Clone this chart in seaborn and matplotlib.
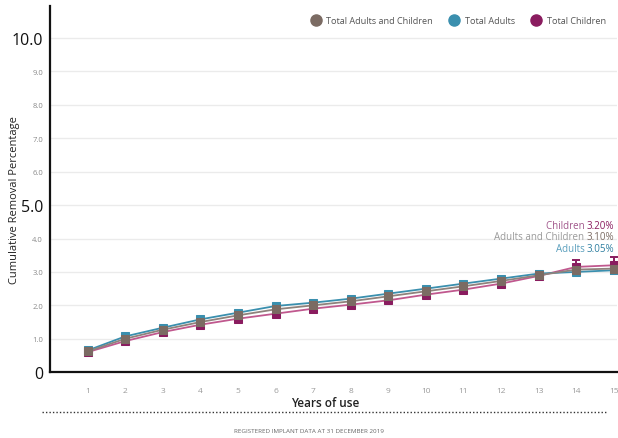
import matplotlib
matplotlib.use("Agg")
import matplotlib.pyplot as plt
import seaborn as sns
import numpy as np
import pandas as pd

years = list(range(1, 16))
adults = [0.65, 1.07, 1.33, 1.58, 1.78, 1.98, 2.08, 2.20, 2.35, 2.50, 2.65, 2.80, 2.95, 3.00, 3.05]
adults_lo = [0.60, 1.02, 1.28, 1.53, 1.73, 1.93, 2.03, 2.15, 2.29, 2.44, 2.58, 2.73, 2.86, 2.92, 2.95]
adults_hi = [0.70, 1.12, 1.38, 1.63, 1.83, 2.03, 2.13, 2.25, 2.41, 2.56, 2.72, 2.87, 3.04, 3.08, 3.15]
total = [0.62, 1.00, 1.27, 1.50, 1.70, 1.88, 2.00, 2.12, 2.27, 2.42, 2.57, 2.73, 2.90, 3.07, 3.10]
total_lo = [0.58, 0.96, 1.23, 1.46, 1.66, 1.84, 1.95, 2.07, 2.22, 2.37, 2.51, 2.67, 2.83, 2.98, 3.00]
total_hi = [0.66, 1.04, 1.31, 1.54, 1.74, 1.92, 2.05, 2.17, 2.32, 2.47, 2.63, 2.79, 2.97, 3.16, 3.22]
children = [0.60, 0.93, 1.20, 1.42, 1.60, 1.75, 1.90, 2.02, 2.15, 2.32, 2.47, 2.65, 2.88, 3.15, 3.20]
children_lo = [0.56, 0.88, 1.15, 1.37, 1.55, 1.70, 1.84, 1.96, 2.09, 2.25, 2.39, 2.56, 2.75, 2.97, 3.00]
children_hi = [0.64, 0.98, 1.25, 1.47, 1.65, 1.80, 1.96, 2.08, 2.21, 2.39, 2.55, 2.74, 3.01, 3.35, 3.45]

series_names = ["Total Adults and Children", "Total Adults", "Total Children"]
colors = {"Total Adults and Children": "#7b6b63", "Total Adults": "#3a8fae", "Total Children": "#8a1c5f"}
line_colors = {"Total Adults and Children": "#8f827c", "Total Adults": "#3a8fae", "Total Children": "#c0588e"}

ytick_vals = [0, 1, 2, 3, 4, 5, 6, 7, 8, 9, 10]
ytick_labels = ["0", "1.0", "2.0", "3.0", "4.0", "5.0", "6.0", "7.0", "8.0", "9.0", "10.0"]

sns.set_theme(style="white")
plt.rcParams['font.family'] = ['Open Sans', 'DejaVu Sans']

fig = plt.figure(figsize=(6.18, 4.39), dpi=100)
ax = fig.add_axes([0.081, 0.150, 0.917, 0.834])

data = {
    "Total Children": (children, children_lo, children_hi),
    "Total Adults": (adults, adults_lo, adults_hi),
    "Total Adults and Children": (total, total_lo, total_hi),
}

for name in ["Total Children", "Total Adults", "Total Adults and Children"]:
    vals, lo, hi = data[name]
    df = pd.DataFrame({"year": years, "value": vals})
    v = np.array(vals); l = np.array(lo); h = np.array(hi)
    ax.errorbar(years, vals, yerr=[v - l, h - v], fmt="none", ecolor=colors[name],
                elinewidth=1.4, capsize=2.8, capthick=1.4, zorder=3)
    sns.lineplot(data=df, x="year", y="value", ax=ax, color=line_colors[name], lw=1.3,
                 marker="s", markersize=5.5, markerfacecolor=colors[name],
                 markeredgecolor=colors[name], zorder=4)

ax.set_xlim(0, 15.08)
ax.set_ylim(0, 10.96)
for yv in range(1, 11):
    ax.axhline(yv, color="#ebebeb", lw=1.0, zorder=0)

ax.set_xticks(years)
ax.set_xticklabels([str(y) for y in years], fontsize=6, color="#9a9a9a")
ax.set_yticks(ytick_vals)
ax.set_yticklabels(ytick_labels)
for lab, val in zip(ax.get_yticklabels(), ytick_vals):
    if val in (0, 5, 10):
        lab.set_fontsize(11.5)
        lab.set_color("#111111")
    else:
        lab.set_fontsize(5.5)
        lab.set_color("#8a8a8a")
ax.tick_params(axis="both", which="both", length=3, width=1, color="#111111", pad=2)
ax.tick_params(axis="x", pad=8)
for s in ["top", "right"]:
    ax.spines[s].set_visible(False)
ax.spines["left"].set_color("#111111")
ax.spines["bottom"].set_color("#111111")
ax.spines["left"].set_linewidth(1.6)
ax.spines["bottom"].set_linewidth(1.6)
ax.set_xlabel("")
ax.set_ylabel("")

fig.text(0.023, 0.545, "Cumulative Removal Percentage", rotation=90, ha="center", va="center",
         fontsize=8, color="#222222")
fig.text(0.526, 0.082, "Years of use", ha="center", va="center", fontsize=8.5,
         fontweight="semibold", color="#222222")
fig.add_artist(plt.Line2D([0.068, 0.983], [0.059, 0.059], transform=fig.transFigure,
                          color="#333333", lw=1.0, linestyle=(0, (1, 1.5))))
fig.text(0.5, 0.018, "REGISTERED IMPLANT DATA AT 31 DECEMBER 2019", ha="center", va="center",
         fontsize=4.5, color="#666666")

# legend
from matplotlib.lines import Line2D
handles = [Line2D([0], [0], marker="o", linestyle="none", markersize=8,
                  markerfacecolor=colors[n], markeredgecolor=colors[n]) for n in series_names]
leg = ax.legend(handles, series_names, loc="upper right", bbox_to_anchor=(0.995, 0.995), ncol=3,
                frameon=False, fontsize=6.6, handletextpad=0.15, columnspacing=1.3, labelcolor="#555555")

# end annotations
ann = [("Children ", "3.20%", "#a0558a", "#8a1c5f", 4.33),
       ("Adults and Children ", "3.10%", "#9a9a9a", "#7b6b63", 3.98),
       ("Adults ", "3.05%", "#5a9fbd", "#2f7fa0", 3.64)]
for lab, val, c1, c2, yy in ann:
    t = ax.text(15.02, yy, val, ha="right", va="baseline", fontsize=7, color=c2)
    ax.annotate(lab, xy=(0, 0), xycoords=t, ha="right", va="bottom", fontsize=7, color=c1)

fig.savefig("out.png", dpi=100)
